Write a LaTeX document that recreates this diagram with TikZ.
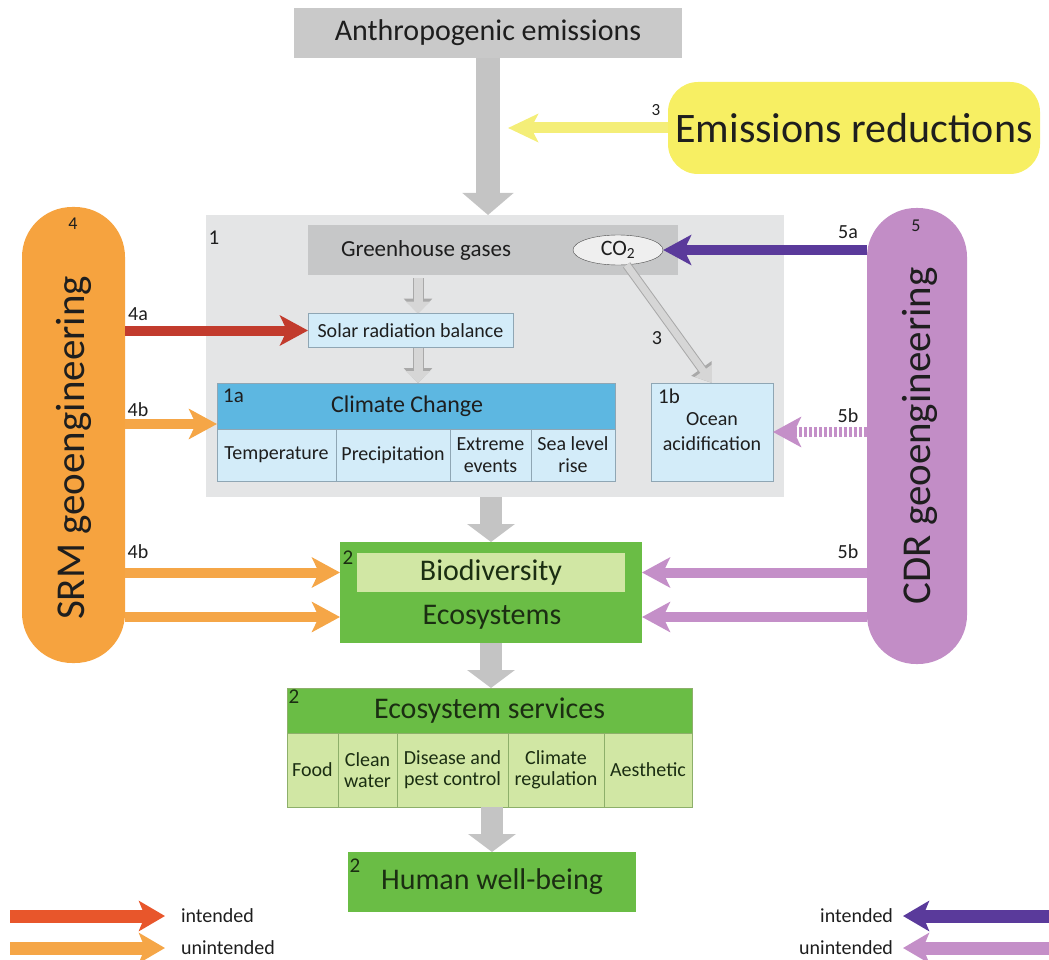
\documentclass[tikz,border=0pt]{standalone}
\usepackage{fontspec}
\setmainfont{Carlito}
\usetikzlibrary{arrows.meta,shapes.geometric}
\definecolor{anthrogray}{HTML}{C9C9C9}
\definecolor{bigbg}{HTML}{E4E5E6}
\definecolor{ghggray}{HTML}{C6C7C8}
\definecolor{co2fill}{HTML}{EFEFEF}
\definecolor{ltblue}{HTML}{D3ECF9}
\definecolor{hdrblue}{HTML}{5DB7E1}
\definecolor{blueline}{HTML}{8FA6B4}
\definecolor{grn}{HTML}{6ABD45}
\definecolor{ltgrn}{HTML}{D1E7A4}
\definecolor{grnline}{HTML}{8DAF6A}
\definecolor{grntext}{HTML}{1B2E12}
\definecolor{srmorange}{HTML}{F6A33F}
\definecolor{orgarrow}{HTML}{F5A647}
\definecolor{redarrow}{HTML}{C23B2D}
\definecolor{legred}{HTML}{E8562B}
\definecolor{dkpurple}{HTML}{5A3A9B}
\definecolor{ltpurple}{HTML}{C28DC6}
\definecolor{purparrow}{HTML}{C48FC8}
\definecolor{yel}{HTML}{F7EF63}
\definecolor{yelarrow}{HTML}{F4EE78}
\definecolor{arrgray}{HTML}{C4C4C4}
\definecolor{arrgrayline}{HTML}{A9A9A9}
\definecolor{arrgraylt}{HTML}{D6D6D6}
\definecolor{txt}{HTML}{1E1E1E}
\newcommand{\fsz}[1]{\fontsize{#1}{#1}\selectfont}
\begin{document}
\begin{tikzpicture}[x=1pt,y=-1pt,
  box/.style={inner sep=0pt, outer sep=0pt, text=txt},
  lbl/.style={inner sep=0pt, text=txt, font=\fsz{20}},
  cell/.style={box, fill=ltblue, draw=blueline, minimum height=52pt, font=\fontsize{20}{22}\selectfont, align=center},
  scell/.style={box, fill=ltgrn, draw=grnline, minimum height=74pt, font=\fontsize{20}{21}\selectfont, align=center, text=grntext},
  bigarr/.style={draw=arrgray, line width=24pt, -{Triangle[length=22pt,width=50pt]}},
  bigarrb/.style={draw=arrgray, line width=22pt, -{Triangle[length=18pt,width=47pt]}},
  smallarr/.style={draw=arrgraylt, line width=9pt, -{Triangle[length=12pt,width=24pt]},
    preaction={draw=arrgrayline, line width=11pt, -{Triangle[length=15pt,width=28pt]}}},
  diagarr/.style={draw=arrgraylt, line width=7pt, -{Triangle[length=15pt,width=20pt]},
    preaction={draw=arrgrayline, line width=9pt, -{Triangle[length=18pt,width=24pt]}}},
  darr/.style={line width=10pt, -{Stealth[length=28pt,width=30pt,inset=7pt]}},
  yarr/.style={draw=yelarrow, line width=11pt, -{Stealth[length=30pt,width=28pt,inset=7pt]}},
  legarr/.style={line width=13pt, -{Stealth[length=26pt,width=30pt,inset=6pt]}}
]
\useasboundingbox (0,0) rectangle (1049,960);

% top
\node[box, fill=anthrogray, minimum width=388pt, minimum height=50pt, font=\fsz{30}] (anthro) at (488,33) {Anthropogenic emissions};
\node[box, fill=yel, rounded corners=30pt, minimum width=372pt, minimum height=92pt, font=\fsz{42}] (emred) at (854,128) {Emissions reductions};

% big box 1
\node[box, fill=bigbg, minimum width=578pt, minimum height=282pt] (big) at (495,356) {};
\node[lbl, font=\fsz{21}] at (214,238) {1};
\node[box, fill=ghggray, minimum width=370pt, minimum height=50pt] (ghg) at (493,250) {};
\node[box, font=\fsz{23}] (ghgtext) at (426,250) {Greenhouse gases};
\node[ellipse, draw=black!70, fill=co2fill, minimum width=90pt, minimum height=30pt, inner sep=0pt, font=\fsz{22}, text=txt] (co2) at (618,250) {CO\textsubscript{2}};
\node[box, fill=ltblue, draw=blueline, minimum width=205pt, minimum height=34pt, font=\fsz{20}] (solar) at (410.5,330.5) {Solar radiation balance};

\node[box, fill=hdrblue, draw=blueline, minimum width=398pt, minimum height=46pt, font=\fsz{24}] (cch) at (416,406) {\hspace*{-18pt}Climate Change};
\node[lbl, anchor=west, font=\fsz{21}] at (223,396) {1a};
\node[cell, minimum width=119pt] (temp) at (276.5,455) {Temperature};
\node[cell, minimum width=114pt] (precip) at (393,455) {Precipitation};
\node[cell, minimum width=81pt] (extreme) at (490.5,455) {Extreme\\events};
\node[cell, minimum width=84pt] (sea) at (573,455) {Sea level\\rise};

\node[box, fill=ltblue, draw=blueline, minimum width=122pt, minimum height=98pt, font=\fontsize{20}{25}\selectfont, align=center] (ocean) at (712,432) {Ocean\\acidification};
\node[lbl, anchor=west, font=\fsz{21}] at (658,396) {1b};

% biodiversity / ecosystems
\node[box, fill=grn, minimum width=302pt, minimum height=101pt] (eco) at (491,592.5) {};
\node[box, fill=ltgrn, minimum width=268pt, minimum height=39pt, font=\fsz{30}, text=grntext] (bio) at (491,572.5) {Biodiversity};
\node[box, font=\fsz{30}, text=grntext] (ecotext) at (492,617) {Ecosystems};
\node[lbl, text=grntext, font=\fsz{21}] at (348,558) {2};

% ecosystem services
\node[box, fill=grn, draw=grnline, minimum width=405pt, minimum height=45pt, font=\fsz{30}, text=grntext] (serv) at (489.5,710.5) {Ecosystem services};
\node[lbl, text=grntext, font=\fsz{21}] at (294,697) {2};
\node[scell, minimum width=51pt] (food) at (312.5,770) {Food};
\node[scell, minimum width=59pt] (water) at (367.5,770) {Clean\\water};
\node[scell, minimum width=111pt] (disease) at (452.5,770) {Disease and\\pest control};
\node[scell, minimum width=96pt] (climreg) at (556,770) {Climate\\regulation};
\node[scell, minimum width=88pt] (aesth) at (648,770) {Aesthetic};

% human well-being
\node[box, fill=grn, minimum width=288pt, minimum height=60pt, font=\fsz{30}, text=grntext] (human) at (492,882) {Human well-being};
\node[lbl, text=grntext, font=\fsz{21}] at (355,866) {2};

% pills
\node[box, fill=srmorange, rounded corners=50pt, minimum width=103pt, minimum height=456pt] (srm) at (73.5,435) {};
\node[box, rotate=90, font=\fsz{41}] (srmtext) at (74,448) {SRM geoengineering};
\node[lbl, font=\fsz{18}] at (73,224) {4};
\node[box, fill=ltpurple, rounded corners=49pt, minimum width=100pt, minimum height=456pt] (cdr) at (917,436) {};
\node[box, rotate=90, font=\fsz{41}] (cdrtext) at (920,436) {CDR geoengineering};
\node[lbl, font=\fsz{18}] at (916,226) {5};

% gray flow arrows
\draw[bigarr] (anthro.south) -- (anthro.south |- big.north);
\coordinate (yend) at (508,128);
\draw[yarr] (emred.west) -- (yend);
\node[lbl, font=\fsz{17}] at (656,110) {3};

\coordinate (sx) at (418,0);
\draw[smallarr, shorten <=3pt] (ghg.south -| sx) -- (solar.north -| sx);
\draw[smallarr] (solar.south -| sx) -- (cch.north -| sx);
\draw[diagarr] (co2.300) -- (ocean.north);
\node[lbl] at (657,338) {3};

\draw[bigarrb] (eco.north |- big.south) -- (eco.north);
\draw[bigarrb] (eco.south) -- (eco.south |- serv.north);
\draw[bigarrb] (human.north |- disease.south) -- (human.north);

% SRM arrows
\draw[darr, redarrow] (srm.east |- solar.west) -- (solar.west);
\node[lbl] at (138,314) {4a};
\coordinate (cc4b) at (217,424);
\draw[darr, orgarrow] (srm.east |- cc4b) -- (cc4b);
\node[lbl] at (138,410) {4b};
\draw[darr, orgarrow] (srm.east |- bio.west) -- (eco.west |- bio.west);
\draw[darr, orgarrow] (srm.east |- ecotext) -- (eco.west |- ecotext);
\node[lbl] at (138,552) {4b};

% CDR arrows
\draw[darr, dkpurple] (cdr.west |- co2.east) -- (co2.east);
\node[lbl] at (848,232) {5a};
\draw[darr, purparrow, dash pattern=on 3pt off 2pt] (cdr.west |- ocean.east) -- (ocean.east);
\node[lbl] at (848,416) {5b};
\draw[darr, purparrow] (cdr.west |- bio.east) -- (eco.east |- bio.east);
\draw[darr, purparrow] (cdr.west |- ecotext) -- (eco.east |- ecotext);
\node[lbl] at (848,552) {5b};

% legend
\node[box, anchor=west, font=\fsz{20}] (lint) at (181,916) {intended};
\node[box, anchor=west, font=\fsz{20}] (lunint) at (181,948) {unintended};
\coordinate (l1) at (10,916);
\coordinate (l2) at (10,948);
\draw[legarr, legred, shorten >=16pt] (l1) -- (lint.west);
\draw[legarr, orgarrow, shorten >=16pt] (l2) -- (lunint.west);
\node[box, anchor=east, font=\fsz{20}] (rint) at (893,916) {intended};
\node[box, anchor=east, font=\fsz{20}] (runint) at (893,948) {unintended};
\coordinate (r1) at (1049,916);
\coordinate (r2) at (1049,948);
\draw[legarr, dkpurple, shorten >=10pt] (r1) -- (rint.east);
\draw[legarr, purparrow, shorten >=10pt] (r2) -- (runint.east);
\end{tikzpicture}
\end{document}
